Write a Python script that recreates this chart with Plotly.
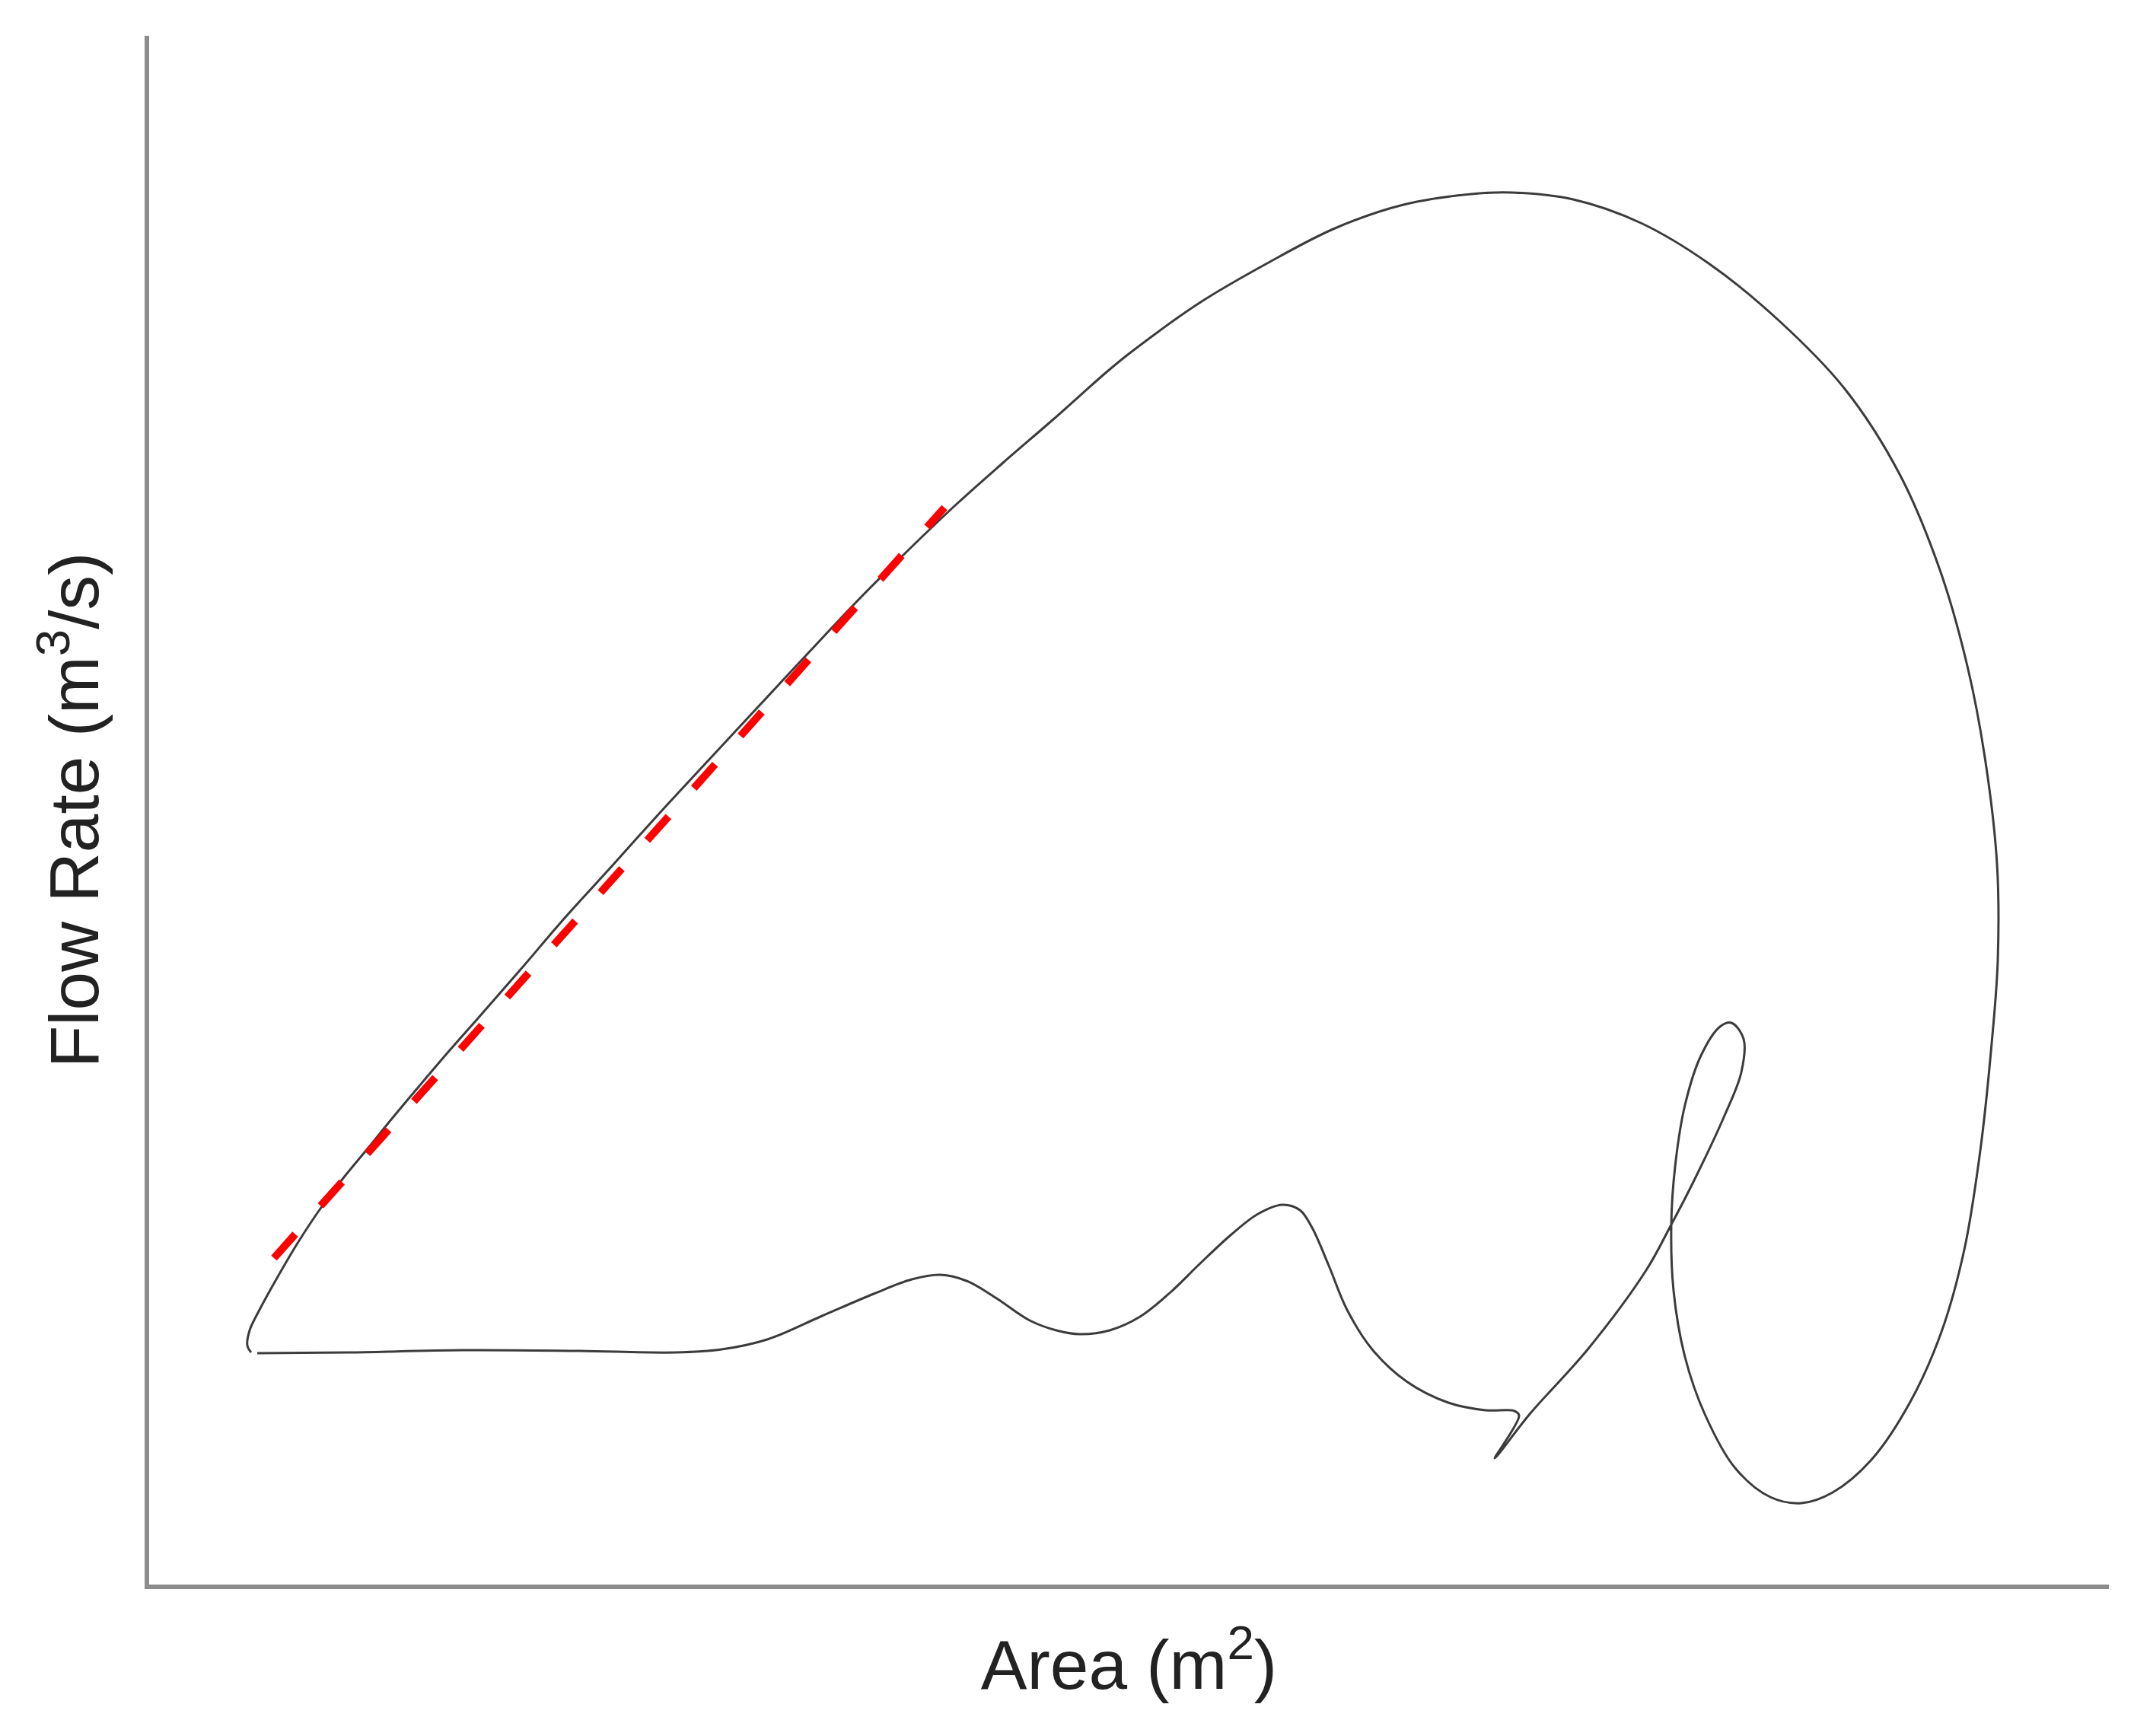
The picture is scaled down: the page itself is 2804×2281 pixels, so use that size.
import plotly.graph_objects as go

# hysteresis loop (arbitrary units, no ticks shown)
area = [142, 262, 412, 562, 692, 752, 812, 882, 952, 1002, 1040, 1074, 1112, 1157, 1192, 1223,
        1262, 1302, 1342, 1380, 1422, 1457, 1489, 1512, 1528, 1550, 1574, 1607, 1652, 1707, 1756,
        1794, 1800, 1768,
        1814, 1891, 1967, 2000, 2028, 2069, 2092, 2095, 2079, 2064, 2039, 2018, 2005, 2000,
        2003, 2018, 2044, 2084, 2130, 2171, 2212, 2263, 2314, 2355, 2385, 2406, 2421, 2429, 2428,
        2412, 2389, 2353, 2300, 2228, 2139, 2049, 1960, 1871, 1791, 1737, 1648, 1558, 1469, 1380,
        1291, 1259, 1188, 1122, 1058, 985, 932, 866, 798, 733, 671, 608, 547, 487, 432, 394, 354,
        318, 288, 255, 225, 194, 167, 145, 132, 129, 134]
flow = [304, 305, 308, 307, 305, 309, 322, 352, 382, 401, 407, 399, 377, 347, 334, 329,
        334, 352, 384, 421, 460, 487, 499, 492, 469, 419, 361, 309, 267, 239, 229,
        228, 222, 166,
        224, 310, 413, 473, 527, 614, 673, 717, 738, 733, 695, 630, 549, 473,
        386, 299, 224, 153, 115, 107, 121, 164, 240, 332, 440, 570, 711, 820, 947,
        1087, 1207, 1333, 1459, 1571, 1663, 1736, 1789, 1820, 1829, 1827, 1813, 1782, 1736, 1684,
        1620, 1594, 1531, 1474, 1417, 1347, 1294, 1224, 1151, 1081, 1014, 944, 877, 807, 744, 701, 654,
        611, 574, 534, 494, 447, 401, 361, 334, 314, 305]

# straight fit along the rising part
fit_area = [164, 1045]
fit_flow = [429, 1415]

fig = go.Figure()
fig.add_trace(go.Scatter(x=area, y=flow, mode="lines",
                         line=dict(color="#3c3c3c", width=3, shape="spline", smoothing=1.0)))
fig.add_trace(go.Scatter(x=fit_area, y=fit_flow, mode="lines",
                         line=dict(color="#ff0000", width=10, dash="42px,50px")))

fig.update_layout(
    width=2804, height=2281,
    margin=dict(l=188, r=41, t=39, b=207),
    plot_bgcolor="white", paper_bgcolor="white",
    showlegend=False,
    font=dict(family="Liberation Sans, Arial, sans-serif", size=76, color="#222222"),
)
fig.update_xaxes(range=[0, 2575], showline=True, linewidth=6, linecolor="#8c8c8c",
                 showgrid=False, zeroline=False, showticklabels=False, ticks="",
                 title=dict(text="Area (m<sup>2</sup>)", standoff=70))
fig.update_yaxes(range=[0, 2035], showline=True, linewidth=6, linecolor="#8c8c8c",
                 showgrid=False, zeroline=False, showticklabels=False, ticks="",
                 title=dict(text="Flow Rate (m<sup>3</sup>/s)", standoff=32))

fig.write_html("out.html")
